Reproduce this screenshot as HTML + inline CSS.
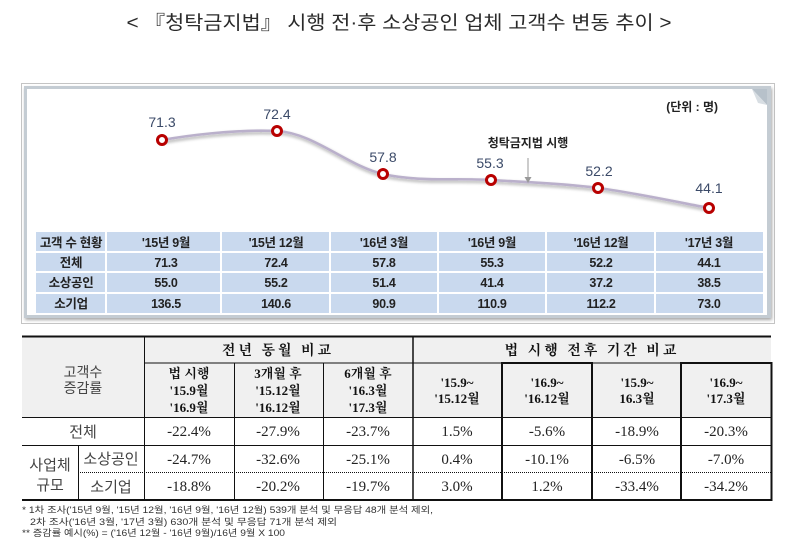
<!DOCTYPE html>
<html><head><meta charset="utf-8">
<style>
html,body{margin:0;padding:0;background:#fff;}
body{width:800px;height:552px;overflow:hidden;position:relative;}
svg{position:absolute;left:0;top:0;}
.t{font-family:"Liberation Sans","Noto Sans CJK KR",sans-serif;}
.s{font-family:"Liberation Serif","Noto Serif CJK KR",serif;}
</style></head><body>
<svg width="800" height="552" viewBox="0 0 800 552" xmlns="http://www.w3.org/2000/svg">
<defs>
<filter id="sh" x="-5%" y="-5%" width="110%" height="120%">
<feGaussianBlur in="SourceAlpha" stdDeviation="1.5"/>
<feOffset dx="1" dy="2" result="o"/>
<feComponentTransfer><feFuncA type="linear" slope="0.35"/></feComponentTransfer>
<feMerge><feMergeNode/><feMergeNode in="SourceGraphic"/></feMerge>
</filter>
</defs>

<!-- Title -->
<text x="399" y="29" text-anchor="middle" class="t" font-size="19" fill="#2a2a2a" textLength="545" lengthAdjust="spacingAndGlyphs">&lt; 『청탁금지법』 시행 전·후 소상공인 업체 고객수 변동 추이 &gt;</text>

<!-- dotted outer border -->
<rect x="21.5" y="83.5" width="753" height="240" fill="none" stroke="#8a8a8a" stroke-width="1" stroke-dasharray="1,1"/>

<!-- gray frame -->
<rect x="24" y="86" width="747" height="232" fill="#c4ccd3" filter="url(#sh)"/>
<rect x="27" y="89" width="740" height="226" fill="#ffffff"/>
<!-- corner fold -->
<polygon points="752,89 767,89 767,105" fill="#b7c1ca"/>
<polygon points="752,89 767,105 758,103" fill="#d8dee3"/>

<text x="718" y="111" text-anchor="end" class="t" font-size="12" font-weight="bold" fill="#222">(단위 : 명)</text>

<!-- curve -->
<path d="M162,140 C185,136 235,129 277,131 C313.8,133 347.3,165.8 383,174 C418.7,182.2 455.2,177.7 491,180 C526.8,182.3 561.7,183.3 598,188 C634.3,192.7 690.5,204.7 709,208" fill="none" stroke="#bab0cb" stroke-width="2.6" filter="url(#sh)"/>

<!-- annotation -->
<text x="528" y="147" text-anchor="middle" class="t" font-size="12" font-weight="bold" fill="#222">청탁금지법 시행</text>
<line x1="528" y1="158" x2="528" y2="180" stroke="#999" stroke-width="1"/>
<polygon points="524.5,177 531.5,177 528,183" fill="#999"/>

<!-- markers -->
<g fill="#fff" stroke="#b80000" stroke-width="3">
<circle cx="162" cy="140" r="4.5"/>
<circle cx="277" cy="131" r="4.5"/>
<circle cx="383" cy="174" r="4.5"/>
<circle cx="491" cy="180" r="4.5"/>
<circle cx="598" cy="188" r="4.5"/>
<circle cx="709" cy="208" r="4.5"/>
</g>
<g class="t" font-size="14" fill="#3b4a68" text-anchor="middle">
<text x="162" y="127">71.3</text>
<text x="277" y="119">72.4</text>
<text x="383" y="162">57.8</text>
<text x="490" y="168">55.3</text>
<text x="599" y="176">52.2</text>
<text x="709" y="193">44.1</text>
</g>

<!-- chart data table -->
<rect x="36" y="232" width="727" height="81" fill="#c9d9ee"/>
<g stroke="#ffffff" stroke-width="2">
<line x1="36" y1="252" x2="763" y2="252"/>
<line x1="36" y1="272" x2="763" y2="272"/>
<line x1="36" y1="293" x2="763" y2="293"/>
<line x1="106" y1="232" x2="106" y2="313"/>
<line x1="221" y1="232" x2="221" y2="313"/>
<line x1="330" y1="232" x2="330" y2="313"/>
<line x1="438" y1="232" x2="438" y2="313"/>
<line x1="546" y1="232" x2="546" y2="313"/>
<line x1="655" y1="232" x2="655" y2="313"/>
</g>
<g class="t" font-size="12.5" font-weight="bold" fill="#222" text-anchor="middle" letter-spacing="-0.3">
<text x="71" y="247">고객 수 현황</text>
<text x="166" y="247">'15년 9월</text>
<text x="276" y="247">'15년 12월</text>
<text x="384" y="247">'16년 3월</text>
<text x="492" y="247">'16년 9월</text>
<text x="601" y="247">'16년 12월</text>
<text x="709" y="247">'17년 3월</text>

<text x="71" y="267">전체</text>
<text x="166" y="267">71.3</text>
<text x="276" y="267">72.4</text>
<text x="384" y="267">57.8</text>
<text x="492" y="267">55.3</text>
<text x="601" y="267">52.2</text>
<text x="709" y="267">44.1</text>

<text x="71" y="287">소상공인</text>
<text x="166" y="287">55.0</text>
<text x="276" y="287">55.2</text>
<text x="384" y="287">51.4</text>
<text x="492" y="287">41.4</text>
<text x="601" y="287">37.2</text>
<text x="709" y="287">38.5</text>

<text x="71" y="308">소기업</text>
<text x="166" y="308">136.5</text>
<text x="276" y="308">140.6</text>
<text x="384" y="308">90.9</text>
<text x="492" y="308">110.9</text>
<text x="601" y="308">112.2</text>
<text x="709" y="308">73.0</text>
</g>

<!-- bottom table -->
<rect x="22" y="337" width="749" height="80" fill="#f0f0f0"/>
<g stroke="#111" fill="none">
<line x1="22" y1="336.5" x2="771" y2="336.5" stroke-width="2"/>
<line x1="22" y1="500" x2="772" y2="500" stroke-width="2"/>
<line x1="144" y1="363" x2="771" y2="363" stroke-width="1"/>
<line x1="502" y1="363" x2="592" y2="363" stroke-width="2"/>
<line x1="681" y1="363" x2="772" y2="363" stroke-width="2"/>
<line x1="22" y1="417.5" x2="771" y2="417.5" stroke-width="1"/>
<line x1="22" y1="445.5" x2="771" y2="445.5" stroke-width="1"/>
<line x1="78" y1="472.5" x2="771" y2="472.5" stroke-width="1" stroke-dasharray="1,1"/>
<line x1="144.5" y1="336" x2="144.5" y2="500" stroke-width="1"/>
<line x1="413" y1="336" x2="413" y2="500" stroke-width="1.5"/>
<line x1="234.5" y1="363" x2="234.5" y2="500" stroke-width="1"/>
<line x1="323.5" y1="363" x2="323.5" y2="500" stroke-width="1"/>
<line x1="502" y1="362" x2="502" y2="500" stroke-width="2"/>
<line x1="592" y1="362" x2="592" y2="500" stroke-width="2"/>
<line x1="681" y1="362" x2="681" y2="500" stroke-width="2"/>
<line x1="771.5" y1="362" x2="771.5" y2="501" stroke-width="2"/>
<line x1="78.5" y1="445" x2="78.5" y2="500" stroke-width="1"/>
</g>

<g class="t" font-size="14" fill="#444" text-anchor="middle">
<text x="83" y="377">고객수</text>
<text x="83" y="393">증감률</text>
<text x="83" y="437" font-size="15">전체</text>
<text x="50" y="470" font-size="15">사업체</text>
<text x="50" y="490" font-size="15">규모</text>
<text x="111" y="464" font-size="15">소상공인</text>
<text x="111" y="492" font-size="15">소기업</text>
</g>

<g class="s" font-size="14" font-weight="bold" fill="#111" text-anchor="middle">
<text x="278" y="355" letter-spacing="3">전년 동월 비교</text>
<text x="592" y="355" letter-spacing="3">법 시행 전후 기간 비교</text>
</g>
<g class="s" font-size="13" font-weight="bold" fill="#111" text-anchor="middle">
<text x="189" y="378">법 시행</text>
<text x="189" y="395">'15.9월</text>
<text x="189" y="412">'16.9월</text>
<text x="278" y="378">3개월 후</text>
<text x="278" y="395">'15.12월</text>
<text x="278" y="412">'16.12월</text>
<text x="368" y="378">6개월 후</text>
<text x="368" y="395">'16.3월</text>
<text x="368" y="412">'17.3월</text>

<text x="457" y="387">'15.9~</text>
<text x="457" y="403">'15.12월</text>
<text x="547" y="387">'16.9~</text>
<text x="547" y="403">'16.12월</text>
<text x="637" y="387">'15.9~</text>
<text x="637" y="403">16.3월</text>
<text x="726" y="387">'16.9~</text>
<text x="726" y="403">'17.3월</text>
</g>

<g class="s" font-size="15" fill="#222" text-anchor="middle">
<text x="189" y="436">-22.4%</text>
<text x="278" y="436">-27.9%</text>
<text x="368" y="436">-23.7%</text>
<text x="457" y="436">1.5%</text>
<text x="547" y="436">-5.6%</text>
<text x="637" y="436">-18.9%</text>
<text x="726" y="436">-20.3%</text>

<text x="189" y="464">-24.7%</text>
<text x="278" y="464">-32.6%</text>
<text x="368" y="464">-25.1%</text>
<text x="457" y="464">0.4%</text>
<text x="547" y="464">-10.1%</text>
<text x="637" y="464">-6.5%</text>
<text x="726" y="464">-7.0%</text>

<text x="189" y="491">-18.8%</text>
<text x="278" y="491">-20.2%</text>
<text x="368" y="491">-19.7%</text>
<text x="457" y="491">3.0%</text>
<text x="547" y="491">1.2%</text>
<text x="637" y="491">-33.4%</text>
<text x="726" y="491">-34.2%</text>
</g>

<!-- footnotes -->
<g class="t" font-size="9" fill="#333">
<text x="22" y="513" textLength="411" lengthAdjust="spacingAndGlyphs">* 1차 조사('15년 9월, '15년 12월, '16년 9월, '16년 12월) 539개 분석 및 무응답 48개 분석 제외,</text>
<text x="30" y="525" textLength="307" lengthAdjust="spacingAndGlyphs">2차 조사('16년 3월, '17년 3월)  630개 분석 및 무응답 71개 분석 제외</text>
<text x="22" y="536" textLength="263" lengthAdjust="spacingAndGlyphs">** 증감률 예시(%) = ('16년 12월 - '16년 9월)/16년 9월 X 100</text>
</g>
</svg>
</body></html>
